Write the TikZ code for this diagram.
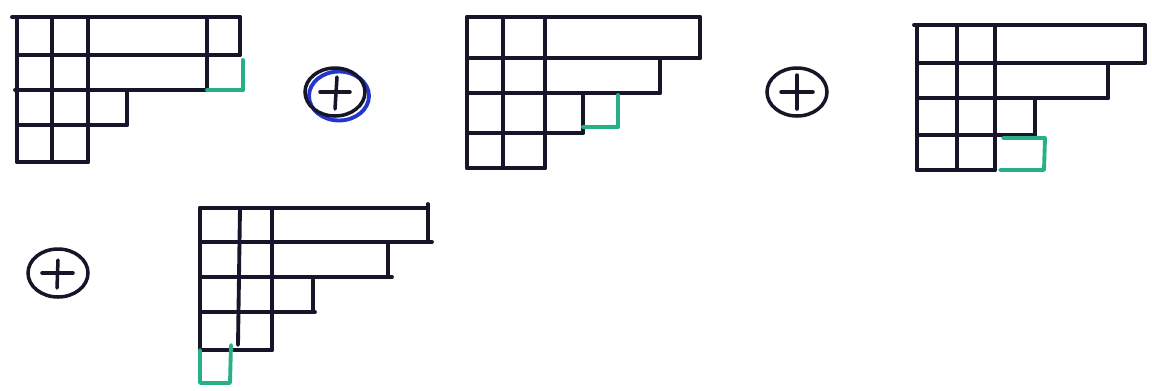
\documentclass[tikz,border=0pt]{standalone}
\usetikzlibrary{shapes.geometric,calc}
\definecolor{ink}{RGB}{22,22,40}
\definecolor{grn}{RGB}{38,176,136}
\definecolor{blu}{RGB}{35,55,205}
\tikzset{
  ln/.style={draw=ink,line width=2.2pt,line cap=round,line join=round},
  gr/.style={draw=grn,line width=2.2pt,line cap=round,line join=round},
  pl/.style={draw=ink,line width=2pt,line cap=round},
  pluscirc/.style={ellipse,draw=ink,line width=2pt,minimum width=1.2cm,minimum height=0.96cm,inner sep=0pt},
  bluering/.style={ellipse,draw=blu,line width=2.2pt,minimum width=1.2cm,minimum height=0.98cm,inner sep=0pt}
}
\begin{document}
\begin{tikzpicture}[x=0.02cm,y=-0.02cm]
\useasboundingbox (0,0) rectangle (1152,390);
% ---------- Figure 1 ----------
\draw[ln] (12,17) -- (240,17);
\draw[ln] (17,55) -- (240,55);
\draw[ln] (15,90) -- (207,90);
\draw[ln] (17,125) -- (127,125);
\draw[ln] (17,162) -- (88,162);
\draw[ln] (17,17) -- (17,162);
\draw[ln] (52,17) -- (52,162);
\draw[ln] (88,17) -- (88,162);
\draw[ln] (127,90) -- (127,125);
\draw[ln] (207,17) -- (207,90);
\draw[ln] (240,17) -- (240,55);
\draw[gr] (207,90) -- (243,90) -- (243,60);
% ---------- plus 1 ----------
\node[bluering] (b1) at (339,96) {};
\node[pluscirc] (p1) at (335,92) {};
\draw[pl] ($(p1)+(-15,0)$) -- ($(p1)+(15,0)$);
\draw[pl] ($(p1)+(2,-15)$) -- ($(p1)+(0,17)$);
% ---------- Figure 2 ----------
\draw[ln] (467,17) -- (700,17);
\draw[ln] (470,58) -- (700,58);
\draw[ln] (467,93) -- (660,93);
\draw[ln] (467,133) -- (583,133);
\draw[ln] (467,168) -- (545,168);
\draw[ln] (467,17) -- (467,168);
\draw[ln] (503,17) -- (503,168);
\draw[ln] (545,17) -- (545,168);
\draw[ln] (583,93) -- (583,133);
\draw[ln] (660,58) -- (660,93);
\draw[ln] (700,17) -- (700,58);
\draw[gr] (583,127) -- (618,127) -- (618,95);
% ---------- plus 2 ----------
\node[pluscirc] (p2) at (797,92) {};
\draw[pl] ($(p2)+(-16,0)$) -- ($(p2)+(16,0)$);
\draw[pl] ($(p2)+(0,-17)$) -- ($(p2)+(0,17)$);
% ---------- Figure 3 ----------
\draw[ln] (914,25) -- (1145,25);
\draw[ln] (917,63) -- (1145,63);
\draw[ln] (917,98) -- (1108,98);
\draw[ln] (917,135) -- (1035,135);
\draw[ln] (917,170) -- (995,170);
\draw[ln] (917,25) -- (917,170);
\draw[ln] (957,25) -- (957,170);
\draw[ln] (995,25) -- (995,170);
\draw[ln] (1035,98) -- (1035,135);
\draw[ln] (1108,63) -- (1108,98);
\draw[ln] (1145,25) -- (1145,63);
\draw[gr] (1003,138) -- (1045,138) -- (1044,170) -- (1000,170);
% ---------- plus 3 ----------
\node[pluscirc] (p3) at (58,273) {};
\draw[pl] ($(p3)+(-16,0)$) -- ($(p3)+(15,0)$);
\draw[pl] ($(p3)+(0,-13)$) -- ($(p3)+(-1,15)$);
% ---------- Figure 4 ----------
\draw[ln] (200,208) -- (428,208);
\draw[ln] (200,242) -- (432,242);
\draw[ln] (200,277) -- (392,277);
\draw[ln] (200,312) -- (315,312);
\draw[ln] (200,350) -- (272,350);
\draw[ln] (200,208) -- (200,350);
\draw[ln] (240,208) -- (238,345);
\draw[ln] (272,208) -- (272,350);
\draw[ln] (313,280) -- (313,312);
\draw[ln] (388,242) -- (388,277);
\draw[ln] (428,204) -- (428,242);
\draw[gr] (200,350) -- (200,383) -- (230,383) -- (231,345);
\end{tikzpicture}
\end{document}
